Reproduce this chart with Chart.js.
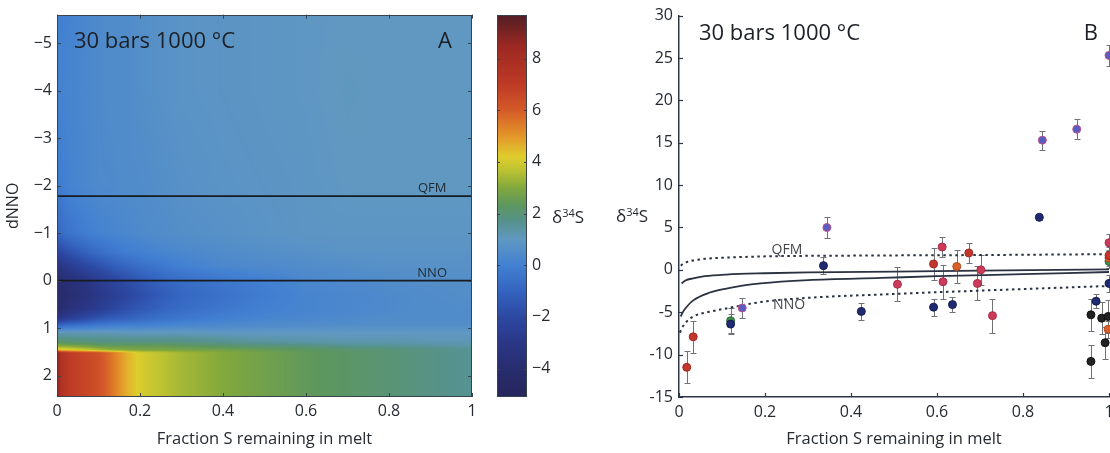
<!DOCTYPE html>
<html>
<head>
<meta charset="utf-8">
<script src="https://cdn.jsdelivr.net/npm/chart.js@4.4.1/dist/chart.umd.min.js"></script>
<style>
  body { margin: 0; width: 1110px; height: 453px; overflow: hidden; background: #fff; position: relative; }
  canvas { position: absolute; top: 0; }
</style>
</head>
<body>
<canvas id="chartA" width="490" height="453" style="left:0"></canvas>
<canvas id="chartBar" width="120" height="453" style="left:480px"></canvas>
<canvas id="chartB" width="530" height="453" style="left:600px"></canvas>
<script>
// ---- panel A: modelled d34S over fraction S remaining (x) and dNNO (y) ----
const heatX = [0, 0.01, 0.03, 0.07, 0.1, 0.13, 0.17, 0.2, 0.25, 0.3, 0.4, 0.5, 0.6, 0.7, 0.8, 0.9, 1];
const heatY = [-5.6, -4, -2, -1, -0.6, -0.3, 0, 0.3, 0.6, 0.8, 0.95, 1.1, 1.3, 1.38, 1.46, 1.52, 2.45];
const heatZ = [
  [0.0, 0.0, 0.1, 0.3, 0.4, 0.5, 0.5, 0.6, 0.7, 0.8, 0.85, 0.9, 0.95, 1.0, 1.0, 1.0, 1.0],
  [0.0, 0.1, 0.2, 0.3, 0.4, 0.5, 0.5, 0.6, 0.7, 0.8, 0.85, 0.9, 0.95, 1.05, 1.0, 1.0, 1.0],
  [-0.2, -0.1, 0.1, 0.3, 0.4, 0.4, 0.5, 0.5, 0.6, 0.7, 0.8, 0.85, 0.9, 1.0, 1.0, 1.0, 1.0],
  [-0.9, -0.7, -0.4, -0.1, 0.1, 0.2, 0.3, 0.4, 0.5, 0.6, 0.7, 0.8, 0.9, 0.9, 0.9, 0.9, 0.9],
  [-2.2, -2.0, -1.6, -1.0, -0.7, -0.4, -0.1, 0.0, 0.2, 0.3, 0.5, 0.6, 0.7, 0.8, 0.8, 0.8, 0.8],
  [-3.3, -3.1, -2.7, -2.1, -1.7, -1.3, -0.9, -0.6, -0.3, 0.0, 0.3, 0.4, 0.5, 0.6, 0.7, 0.7, 0.7],
  [-4.0, -3.9, -3.6, -3.1, -2.7, -2.3, -1.8, -1.5, -1.0, -0.7, -0.3, 0.0, 0.3, 0.4, 0.5, 0.6, 0.6],
  [-4.3, -4.2, -3.9, -3.4, -3.0, -2.6, -2.1, -1.8, -1.3, -0.9, -0.5, -0.1, 0.2, 0.3, 0.4, 0.5, 0.6],
  [-4.0, -3.9, -3.5, -3.0, -2.6, -2.2, -1.7, -1.4, -1.0, -0.7, -0.3, 0.0, 0.2, 0.3, 0.4, 0.5, 0.5],
  [-3.0, -2.8, -2.4, -1.9, -1.5, -1.2, -1.0, -0.8, -0.5, -0.3, 0.0, 0.2, 0.3, 0.4, 0.5, 0.5, 0.5],
  [-0.8, -0.7, -0.5, -0.3, -0.1, 0.0, 0.1, 0.1, 0.2, 0.3, 0.4, 0.5, 0.5, 0.6, 0.6, 0.6, 0.6],
  [1.2, 1.2, 1.2, 1.2, 1.2, 1.2, 1.1, 1.1, 1.1, 1.1, 1.0, 1.0, 1.0, 1.0, 1.0, 1.0, 1.0],
  [2.3, 2.2, 2.1, 2.0, 1.9, 1.9, 1.9, 1.9, 1.9, 1.9, 1.7, 1.5, 1.4, 1.3, 1.3, 1.2, 1.2],
  [3.2, 3.1, 3.0, 2.8, 2.6, 2.5, 2.5, 2.5, 2.5, 2.4, 2.2, 2.0, 1.9, 1.7, 1.6, 1.5, 1.4],
  [4.6, 4.5, 4.3, 3.9, 3.5, 3.2, 3.0, 2.9, 2.9, 2.8, 2.7, 2.5, 2.3, 2.1, 2.0, 1.8, 1.6],
  [9.0, 7.6, 7.0, 6.6, 6.3, 5.6, 4.6, 4.1, 3.7, 3.4, 3.0, 2.7, 2.4, 2.2, 2.0, 1.8, 1.6],
  [9.0, 7.6, 7.0, 6.6, 6.3, 5.6, 4.6, 4.1, 3.7, 3.4, 3.0, 2.7, 2.4, 2.2, 2.0, 1.8, 1.6]
];
const bufferNames = ['QFM', 'NNO'];
const bufferLevels = [-1.78, 0];
const colorbarTicks = [-4, -2, 0, 2, 4, 6, 8];
const panelTitle = '30 bars 1000 \u00B0C';

// ---- panel B: measured d34S with error bars, grouped by marker colour ----
const redPoints = [[0.018, -11.5, 1.9], [0.033, -7.9, 1.9], [0.592, 0.7, 1.9], [0.674, 2.0, 1.2], [1.0, 1.7, 1.0]];
const crimsonPoints = [[0.508, -1.7, 2.0], [0.612, 2.7, 1.2], [0.614, -1.4, 2.0], [0.694, -1.6, 2.0], [0.702, 0.0, 1.8], [0.729, -5.4, 2.0], [1.0, 3.2, 1.0]];
const orangePoints = [[0.646, 0.4, 1.9], [0.998, -7.0, 1.0], [1.0, 1.4, 1.0]];
const navyPoints = [[0.12, -6.4, 1.2], [0.336, 0.5, 1.0], [0.424, -4.9, 1.0], [0.592, -4.4, 1.0], [0.636, -4.1, 0.9], [0.838, 6.2, 0.3], [0.97, -3.7, 0.8], [1.0, -1.6, 1.0]];
const violetPoints = [[0.147, -4.5, 1.2], [0.344, 5.0, 1.2], [0.845, 15.3, 1.1], [0.925, 16.6, 1.2], [1.0, 25.3, 1.2]];
const blackPoints = [[0.958, -5.3, 1.9], [0.958, -10.8, 1.9], [0.983, -5.7, 1.9], [0.998, -5.5, 1.9], [0.991, -8.6, 1.9]];
const greenPoints = [[0.12, -6.0, 1.5], [1.0, 1.0, 0.8]];

const qfmX = [0.004, 0.01, 0.02, 0.033, 0.06, 0.11, 0.21, 0.4, 0.7, 1];
const qfmY = [0.5, 0.75, 0.95, 1.1, 1.3, 1.45, 1.6, 1.68, 1.75, 1.85];
const upperX = [0.006, 0.015, 0.033, 0.06, 0.11, 0.2, 0.3, 0.5, 0.7, 1];
const upperY = [-1.6, -1.25, -1.0, -0.75, -0.55, -0.4, -0.3, -0.2, -0.1, 0.05];
const lowerX = [0.004, 0.01, 0.018, 0.033, 0.07, 0.11, 0.19, 0.3, 0.47, 0.6, 0.8, 1];
const lowerY = [-5.5, -4.9, -4.35, -3.6, -2.7, -2.2, -1.6, -1.2, -0.95, -0.75, -0.5, -0.25];
const nnoX = [0.002, 0.01, 0.018, 0.033, 0.07, 0.11, 0.19, 0.3, 0.47, 0.7, 1];
const nnoY = [-7.4, -6.6, -6.1, -5.5, -4.95, -4.55, -3.8, -3.3, -2.9, -2.45, -1.9];

// colour map (jet-like, as printed)
const cmapVals = [-5.1, -4, -3, -2, -1, 0, 1, 1.7, 2.3, 3, 3.7, 4.2, 5, 6, 7, 8.5, 9.7];
const cmapCols = [[38,38,92],[40,45,110],[42,55,135],[44,72,162],[52,100,192],[66,128,210],[96,152,194],[86,146,140],[92,150,96],[130,168,60],[190,195,50],[222,205,45],[228,150,40],[212,90,40],[190,58,38],[155,40,35],[80,30,35]];

const fontFam = '"Open Sans", "Noto Sans", sans-serif';
const ink = '#262a31';
Chart.defaults.font.family = fontFam;
Chart.defaults.color = ink;

function colorFor(v) {
  if (v <= cmapVals[0]) return cmapCols[0];
  for (let i = 0; i < cmapVals.length - 1; i++) {
    if (v <= cmapVals[i + 1]) {
      const t = (v - cmapVals[i]) / (cmapVals[i + 1] - cmapVals[i]);
      const a = cmapCols[i], b = cmapCols[i + 1];
      return [a[0] + (b[0] - a[0]) * t, a[1] + (b[1] - a[1]) * t, a[2] + (b[2] - a[2]) * t];
    }
  }
  return cmapCols[cmapCols.length - 1];
}

function segIndex(arr, v) {
  for (let i = 0; i < arr.length - 2; i++) if (v <= arr[i + 1]) return i;
  return arr.length - 2;
}

function heatValue(u, v) {
  const i = segIndex(heatX, u), j = segIndex(heatY, v);
  const tx = Math.min(1, Math.max(0, (u - heatX[i]) / (heatX[i + 1] - heatX[i])));
  const ty = Math.min(1, Math.max(0, (v - heatY[j]) / (heatY[j + 1] - heatY[j])));
  const top = heatZ[j][i] * (1 - tx) + heatZ[j][i + 1] * tx;
  const bot = heatZ[j + 1][i] * (1 - tx) + heatZ[j + 1][i + 1] * tx;
  return top * (1 - ty) + bot * ty;
}

function tick(ctx, x1, y1, x2, y2) {
  ctx.beginPath(); ctx.moveTo(x1, y1); ctx.lineTo(x2, y2); ctx.stroke();
}

function drawDelta(ctx, x, y, size) {
  // d34S label with raised 34
  ctx.textAlign = 'left'; ctx.textBaseline = 'alphabetic';
  ctx.font = size + 'px ' + fontFam;
  ctx.fillText('\u03B4', x, y);
  let w = ctx.measureText('\u03B4').width;
  ctx.font = Math.round(size * 0.62) + 'px ' + fontFam;
  ctx.fillText('34', x + w, y - size * 0.38);
  w += ctx.measureText('34').width;
  ctx.font = size + 'px ' + fontFam;
  ctx.fillText('S', x + w, y);
}

// heat map drawn per pixel through the chart's scales (interpolated shading)
const heatPlugin = {
  id: 'heat',
  beforeDatasetsDraw(chart) {
    const {ctx, chartArea: a, scales: {x, y}} = chart;
    const left = Math.round(a.left), top = Math.round(a.top);
    const w = Math.round(a.right) - left, h = Math.round(a.bottom) - top;
    const off = document.createElement('canvas');
    off.width = w; off.height = h;
    const octx = off.getContext('2d');
    const img = octx.createImageData(w, h);
    for (let py = 0; py < h; py++) {
      const v = y.getValueForPixel(top + py + 0.5);
      for (let px = 0; px < w; px++) {
        const u = x.getValueForPixel(left + px + 0.5);
        const c = colorFor(heatValue(u, v));
        const k = (py * w + px) * 4;
        img.data[k] = c[0]; img.data[k + 1] = c[1]; img.data[k + 2] = c[2]; img.data[k + 3] = 255;
      }
    }
    octx.putImageData(img, 0, 0);
    ctx.drawImage(off, left, top);
  },
  afterDraw(chart) {
    const {ctx, chartArea: a, scales: {x, y}} = chart;
    ctx.save();
    ctx.strokeStyle = '#3a434c'; ctx.lineWidth = 1;
    ctx.strokeRect(Math.round(a.left) + 0.5, Math.round(a.top) + 0.5, Math.round(a.right - a.left) - 1, Math.round(a.bottom - a.top) - 1);
    x.ticks.forEach(t => {
      const px = Math.round(x.getPixelForValue(t.value)) + 0.5;
      tick(ctx, px, a.bottom, px, a.bottom - 4);
      tick(ctx, px, a.top, px, a.top + 4);
    });
    y.ticks.forEach(t => {
      const py = Math.round(y.getPixelForValue(t.value)) + 0.5;
      tick(ctx, a.left, py, a.left + 4, py);
      tick(ctx, a.right, py, a.right - 4, py);
    });
    ctx.fillStyle = '#1c2026';
    ctx.font = '22px ' + fontFam;
    ctx.textBaseline = 'middle';
    ctx.textAlign = 'left';
    ctx.fillText(panelTitle, a.left + 17, a.top + 27);
    ctx.textAlign = 'right';
    ctx.fillText('A', a.right - 20, a.top + 27);
    ctx.font = '13px ' + fontFam;
    ctx.textAlign = 'center';
    ctx.textBaseline = 'bottom';
    ctx.fillStyle = '#1f2a33';
    bufferNames.forEach((n, k) => {
      ctx.fillText(n, x.getPixelForValue(0.904), y.getPixelForValue(bufferLevels[k]) - 1);
    });
    ctx.restore();
  }
};

const chartA = new Chart(document.getElementById('chartA'), {
  type: 'scatter',
  data: {
    datasets: bufferNames.map((name, k) => ({
      type: 'line',
      label: name,
      data: [{x: 0, y: bufferLevels[k]}, {x: 1, y: bufferLevels[k]}],
      borderColor: '#161c22',
      borderWidth: 1.8,
      pointRadius: 0
    }))
  },
  options: {
    responsive: false,
    animation: false,
    events: [],
    layout: {padding: {left: 0, right: 18, top: 9, bottom: 0}},
    plugins: {legend: {display: false}, tooltip: {enabled: false}},
    scales: {
      x: {
        type: 'linear', min: 0, max: 1,
        grid: {display: false, drawTicks: false},
        border: {display: false},
        ticks: {stepSize: 0.2, padding: 5, font: {size: 16}, callback: v => String(+v.toFixed(1))},
        title: {display: true, text: 'Fraction S remaining in melt', font: {size: 16.5}, padding: {top: 4, bottom: 4}},
        afterFit(s) { s.height = 56; }
      },
      y: {
        type: 'linear', min: -5.6, max: 2.45, reverse: true,
        grid: {display: false, drawTicks: false},
        border: {display: false},
        ticks: {stepSize: 1, includeBounds: false, padding: 5, font: {size: 16}, callback: v => String(v).replace('-', '\u2212')},
        title: {display: true, text: 'dNNO', font: {size: 16}, padding: {top: 4, bottom: 4}},
        afterFit(s) { s.width = 57; }
      }
    }
  },
  plugins: [heatPlugin]
});

// ---- colour bar ----
const colorbarPlugin = {
  id: 'colorbar',
  beforeDatasetsDraw(chart) {
    const {ctx, chartArea: a, scales: {y}} = chart;
    const top = Math.round(a.top), bot = Math.round(a.bottom);
    for (let py = top; py < bot; py++) {
      const c = colorFor(y.getValueForPixel(py + 0.5));
      ctx.fillStyle = 'rgb(' + Math.round(c[0]) + ',' + Math.round(c[1]) + ',' + Math.round(c[2]) + ')';
      ctx.fillRect(a.left, py, a.right - a.left, 1);
    }
  },
  afterDraw(chart) {
    const {ctx, chartArea: a, scales: {y}} = chart;
    ctx.save();
    ctx.strokeStyle = '#3a434c'; ctx.lineWidth = 1;
    ctx.strokeRect(Math.round(a.left) + 0.5, Math.round(a.top) + 0.5, Math.round(a.right - a.left) - 1, Math.round(a.bottom - a.top) - 1);
    y.ticks.forEach(t => {
      const py = Math.round(y.getPixelForValue(t.value)) + 0.5;
      tick(ctx, a.left, py, a.left + 3, py);
      tick(ctx, a.right, py, a.right - 3, py);
    });
    ctx.fillStyle = ink;
    drawDelta(ctx, 72, 223, 17);
    ctx.restore();
  }
};

const chartBar = new Chart(document.getElementById('chartBar'), {
  type: 'scatter',
  data: {datasets: [{data: []}]},
  options: {
    responsive: false,
    animation: false,
    events: [],
    layout: {padding: {left: 17, right: 0, top: 9, bottom: 56}},
    plugins: {legend: {display: false}, tooltip: {enabled: false}},
    scales: {
      x: {type: 'linear', min: 0, max: 1, display: false},
      y: {
        type: 'linear', position: 'right', min: -5.1, max: 9.7,
        afterBuildTicks(s) { s.ticks = colorbarTicks.map(v => ({value: v})); },
        grid: {display: false, drawTicks: false},
        border: {display: false},
        ticks: {padding: 5, font: {size: 16}, callback: v => String(v).replace('-', '\u2212')},
        afterFit(s) { s.width = 73; }
      }
    }
  },
  plugins: [colorbarPlugin]
});

// ---- panel B ----
const pointGroups = [
  {points: redPoints, fill: '#c4372d', edge: '#9c2a22'},
  {points: crimsonPoints, fill: '#cc3a5a', edge: '#a82c45'},
  {points: orangePoints, fill: '#d9602a', edge: '#b04a1f'},
  {points: navyPoints, fill: '#1f2a70', edge: '#161d52'},
  {points: violetPoints, fill: '#5a5cc0', edge: '#c0508a'},
  {points: blackPoints, fill: '#222222', edge: '#111111'},
  {points: greenPoints, fill: '#3c8c4c', edge: '#2c6a38'}
];

const errorBarPlugin = {
  id: 'errorBars',
  beforeDatasetsDraw(chart) {
    const {ctx, scales: {x, y}} = chart;
    ctx.save();
    ctx.strokeStyle = '#707278'; ctx.lineWidth = 1;
    pointGroups.forEach(g => g.points.forEach(p => {
      const cx = Math.round(x.getPixelForValue(p[0])) + 0.5;
      const t = Math.round(y.getPixelForValue(p[1] + p[2])) + 0.5;
      const b = Math.round(y.getPixelForValue(p[1] - p[2])) + 0.5;
      tick(ctx, cx, t, cx, b);
      tick(ctx, cx - 3, t, cx + 3, t);
      tick(ctx, cx - 3, b, cx + 3, b);
    }));
    ctx.restore();
  },
  afterDraw(chart) {
    const {ctx, chartArea: a, scales: {x, y}} = chart;
    ctx.save();
    ctx.strokeStyle = '#2d3648'; ctx.lineWidth = 1.2;
    x.ticks.forEach(t => {
      const px = Math.round(x.getPixelForValue(t.value)) + 0.5;
      tick(ctx, px, a.bottom, px, a.bottom - 4);
    });
    y.ticks.forEach(t => {
      const py = Math.round(y.getPixelForValue(t.value)) + 0.5;
      tick(ctx, a.left, py, a.left + 4, py);
    });
    ctx.fillStyle = '#1c2026';
    ctx.font = '22px ' + fontFam;
    ctx.textBaseline = 'middle';
    ctx.textAlign = 'left';
    ctx.fillText(panelTitle, a.left + 20, a.top + 18);
    ctx.textAlign = 'right';
    ctx.fillText('B', a.right - 11, a.top + 18);
    ctx.fillStyle = '#44464c';
    ctx.font = '14px ' + fontFam;
    ctx.textAlign = 'center';
    ctx.fillText('QFM', x.getPixelForValue(0.251), y.getPixelForValue(2.3));
    ctx.fillText('NNO', x.getPixelForValue(0.256), y.getPixelForValue(-4.2));
    ctx.fillStyle = ink;
    drawDelta(ctx, 16, 222, 17);
    ctx.restore();
  }
};

function curve(xs, ys, dashed) {
  return {
    type: 'line',
    data: xs.map((v, i) => ({x: v, y: ys[i]})),
    borderColor: '#2a3140',
    borderWidth: dashed ? 2 : 1.8,
    borderDash: dashed ? [2.5, 3.5] : [],
    cubicInterpolationMode: 'monotone',
    pointRadius: 0,
    order: 2
  };
}

const chartB = new Chart(document.getElementById('chartB'), {
  type: 'scatter',
  data: {
    datasets: [
      curve(qfmX, qfmY, true),
      curve(upperX, upperY, false),
      curve(lowerX, lowerY, false),
      curve(nnoX, nnoY, true)
    ].concat(pointGroups.map(g => ({
      data: g.points.map(p => ({x: p[0], y: p[1]})),
      pointRadius: 4,
      pointBackgroundColor: g.fill,
      pointBorderColor: g.edge,
      pointBorderWidth: 1,
      clip: false,
      order: 1
    })))
  },
  options: {
    responsive: false,
    animation: false,
    events: [],
    layout: {padding: {left: 0, right: 21, top: 15, bottom: 0}},
    plugins: {legend: {display: false}, tooltip: {enabled: false}},
    scales: {
      x: {
        type: 'linear', min: 0, max: 1,
        grid: {display: false, drawTicks: false},
        border: {display: true, color: '#2d3648', width: 1.5},
        ticks: {stepSize: 0.2, padding: 6, font: {size: 16}, callback: v => String(+v.toFixed(1))},
        title: {display: true, text: 'Fraction S remaining in melt', font: {size: 16.5}, padding: {top: 4, bottom: 4}},
        afterFit(s) { s.height = 56; }
      },
      y: {
        type: 'linear', min: -15, max: 30,
        grid: {display: false, drawTicks: false},
        border: {display: true, color: '#2d3648', width: 1.5},
        ticks: {stepSize: 5, padding: 6, font: {size: 16}},
        afterFit(s) { s.width = 79; }
      }
    }
  },
  plugins: [errorBarPlugin]
});
</script>
</body>
</html>
